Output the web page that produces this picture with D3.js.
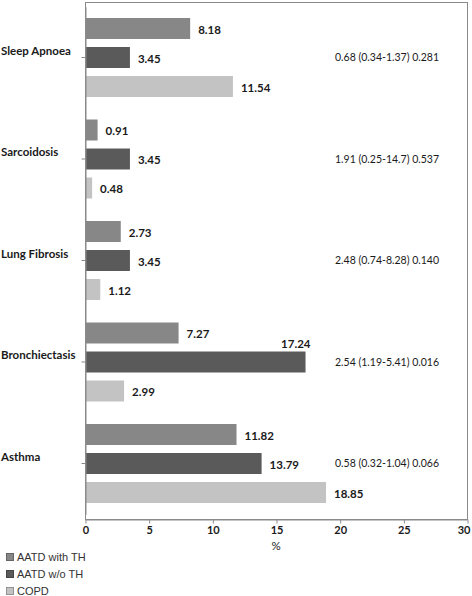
<!DOCTYPE html>
<html>
<head>
<meta charset="utf-8">
<script src="https://cdn.jsdelivr.net/npm/d3@7"></script>
<style>
  html, body { margin: 0; padding: 0; background: #fff; }
  svg { display: block; }
</style>
</head>
<body>
<svg id="chart" width="472" height="596"></svg>
<script>
// ---- data ----
const categories = ["Sleep Apnoea", "Sarcoidosis", "Lung Fibrosis", "Bronchiectasis", "Asthma"];
const seriesNames = ["AATD with TH", "AATD w/o TH", "COPD"];
const aatdWithTH = [8.18, 0.91, 2.73, 7.27, 11.82];
const aatdWithoutTH = [3.45, 3.45, 3.45, 17.24, 13.79];
const copd = [11.54, 0.48, 1.12, 2.99, 18.85];
const annotations = ["0.68 (0.34-1.37) 0.281", "1.91 (0.25-14.7) 0.537", "2.48 (0.74-8.28) 0.140", "2.54 (1.19-5.41) 0.016", "0.58 (0.32-1.04) 0.066"];
const xTickValues = [0, 5, 10, 15, 20, 25, 30];
const xAxisTitle = "%";

// ---- layout ----
const W = 472;
const svg = d3.select("#chart");
const colors = d3.scaleOrdinal().domain(seriesNames).range(["#878787", "#5a5a5a", "#c3c3c3"]);
const plotLeft = 85, plotRight = 467, plotTop = 2, plotBottom = 519;
const x = d3.scaleLinear().domain([0, 30]).range([plotLeft, plotRight]);
const y0 = d3.scaleBand().domain(categories).range([6.75, 514.25]).padding(0);
const y1 = d3.scaleBand().domain(seriesNames).range([0, y0.bandwidth()]).paddingInner(0.276).paddingOuter(0.388);

const seriesValues = [aatdWithTH, aatdWithoutTH, copd];
const rows = [];
categories.forEach((c, i) => {
  seriesNames.forEach((s, j) => rows.push({ cat: c, series: s, value: seriesValues[j][i] }));
});

// frame
svg.append("rect")
  .attr("x", plotLeft + 0.5).attr("y", plotTop + 0.5)
  .attr("width", plotRight - plotLeft).attr("height", plotBottom - plotTop)
  .attr("fill", "none").attr("stroke", "#8a8a8a").attr("stroke-width", 1);

// bars
svg.append("g").selectAll("rect").data(rows).join("rect")
  .attr("x", x(0) + 1)
  .attr("y", d => y0(d.cat) + y1(d.series))
  .attr("width", d => x(d.value) - x(0))
  .attr("height", y1.bandwidth())
  .attr("fill", d => colors(d.series));

// annotation texts
const annX = 335;
const labelFont = "Lato, 'Open Sans', sans-serif";
svg.append("g").selectAll("text").data(categories).join("text")
  .attr("x", annX)
  .attr("y", (d) => y0(d) + y0.bandwidth() / 2)
  .attr("dy", "0.35em")
  .attr("font-family", labelFont)
  .attr("font-size", 10.5)
  .attr("fill", "#1a1a1a")
  .text((d, i) => annotations[i]);

// value labels
const lbl = svg.append("g").selectAll("text").data(rows).join("text")
  .attr("font-family", labelFont)
  .attr("font-weight", "bold")
  .attr("font-size", 11.5)
  .attr("fill", "#1a1a1a")
  .text(d => d.value.toFixed(2));
lbl.each(function(d) {
  const t = d3.select(this);
  const w = this.getComputedTextLength();
  const barEnd = x(d.value);
  const cy = y0(d.cat) + y1(d.series) + y1.bandwidth() / 2;
  const annY = y0(d.cat) + y0.bandwidth() / 2;
  const collides = Math.abs(cy - annY) < 10 && barEnd + 9 + w > annX - 4;
  if (collides) {
    // would run into the annotation text: put label above the bar end
    t.attr("x", barEnd + 6).attr("y", y0(d.cat) + y1(d.series) - 8)
      .attr("text-anchor", "end").attr("dy", "0.35em");
  } else {
    t.attr("x", barEnd + 9).attr("y", cy + 1).attr("dy", "0.35em");
  }
});

// x axis
const xAxis = svg.append("g")
  .attr("transform", `translate(0,${plotBottom + 0.5})`)
  .call(d3.axisBottom(x).tickValues(xTickValues).tickSize(4).tickSizeOuter(0));
xAxis.select(".domain").attr("stroke", "#8a8a8a");
xAxis.selectAll(".tick line").attr("stroke", "#8a8a8a").attr("transform", "translate(0.5,0)");
xAxis.selectAll(".tick text")
  .attr("font-family", labelFont).attr("font-weight", "bold")
  .attr("font-size", 11).attr("fill", "#1a1a1a").attr("y", 7).attr("dx", 0.5)
  .each(function() {
    // keep edge labels inside the picture
    const b = this.getBoundingClientRect();
    if (b.right > W - 1) d3.select(this).attr("dx", 0.5 - (b.right - (W - 1)));
  });

svg.append("text")
  .attr("x", x(15)).attr("y", 546).attr("dy", "0.35em")
  .attr("text-anchor", "middle")
  .attr("font-family", labelFont).attr("font-size", 11.5).attr("fill", "#1a1a1a")
  .text(xAxisTitle);

// y axis ticks
const yAxis = svg.append("g")
  .attr("transform", `translate(${plotLeft + 0.5},0)`)
  .call(d3.axisLeft(y0).tickSize(4).tickSizeOuter(0).tickFormat(""));
yAxis.select(".domain").attr("stroke", "#8a8a8a");
yAxis.selectAll(".tick line").attr("stroke", "#8a8a8a");

// category labels (left aligned)
svg.append("g").selectAll("text").data(categories).join("text")
  .attr("x", 1)
  .attr("y", d => y0(d) + y0.bandwidth() / 2 - 7)
  .attr("dy", "0.35em")
  .attr("font-family", labelFont).attr("font-weight", "bold")
  .attr("font-size", 11.5).attr("fill", "#1a1a1a")
  .text(d => d);

// legend
const leg = svg.append("g").selectAll("g").data(seriesNames).join("g")
  .attr("transform", (d, i) => `translate(6,${553 + i * 17})`);
leg.append("rect")
  .attr("x", 0.5).attr("y", 0.5).attr("width", 7).attr("height", 7)
  .attr("fill", d => colors(d)).attr("stroke", d => d3.color(colors(d)).darker(0.8));
leg.append("text")
  .attr("x", 11).attr("y", 4).attr("dy", "0.35em")
  .attr("font-family", "'Liberation Sans', Arial, sans-serif")
  .attr("font-size", 11).attr("fill", "#333")
  .text(d => d);
</script>
</body>
</html>
